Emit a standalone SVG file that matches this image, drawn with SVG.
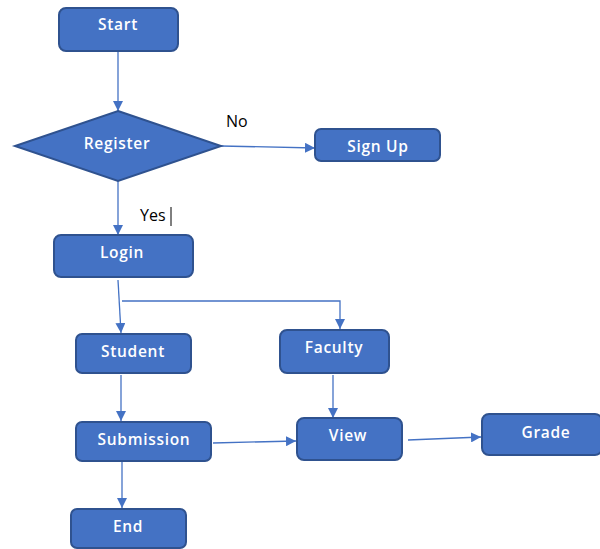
<svg xmlns="http://www.w3.org/2000/svg" width="600" height="549" viewBox="0 0 600 549">
<style>
.n{fill:#4472C4;stroke:#2F528F;stroke-width:2}
.t{fill:#fff;font-family:"Open Sans","Liberation Sans",sans-serif;font-size:15.5px;font-weight:600;text-anchor:middle;dominant-baseline:central;letter-spacing:0.7px}
.c{stroke:#4472C4;stroke-width:1.3;fill:none}
.l{fill:#000;font-family:"Open Sans","Liberation Sans",sans-serif;font-size:16px;font-weight:500}
</style>
<defs>
<marker id="a" viewBox="0 0 10 10" refX="10" refY="5" markerWidth="10" markerHeight="10" markerUnits="userSpaceOnUse" orient="auto">
<path d="M0,0L10,5L0,10z" fill="#4472C4"/>
</marker>
</defs>
<rect width="600" height="549" fill="#fff"/>
<g id="connectors">
<path class="c" d="M118,51V111" marker-end="url(#a)"/>
<path class="c" d="M221,146L315,148" marker-end="url(#a)"/>
<path class="c" d="M118,181V235" marker-end="url(#a)"/>
<path class="c" d="M118,280L121,333" marker-end="url(#a)"/>
<path class="c" d="M122,301H340V329" marker-end="url(#a)"/>
<path class="c" d="M121,375V421" marker-end="url(#a)"/>
<path class="c" d="M333,375L333,418" marker-end="url(#a)"/>
<path class="c" d="M213,443L296,441" marker-end="url(#a)"/>
<path class="c" d="M408,440L481,437" marker-end="url(#a)"/>
<path class="c" d="M122,462V508" marker-end="url(#a)"/>
</g>
<g id="start"><rect class="n" x="59" y="8" width="119" height="43" rx="7"/><text class="t" x="118" y="24">Start</text></g>
<g id="register"><path class="n" d="M118,111L221,146L118,181L15,146z"/><text class="t" x="117" y="143">Register</text></g>
<g id="signup"><rect class="n" x="315" y="129" width="125" height="32" rx="6"/><text class="t" x="378" y="146">Sign Up</text></g>
<g id="login"><rect class="n" x="54" y="235" width="139" height="42" rx="7"/><text class="t" x="122" y="252">Login</text></g>
<g id="student"><rect class="n" x="76" y="334" width="115" height="39" rx="6"/><text class="t" x="133" y="351">Student</text></g>
<g id="faculty"><rect class="n" x="280" y="330" width="109" height="43" rx="7"/><text class="t" x="334" y="347">Faculty</text></g>
<g id="submission"><rect class="n" x="76" y="422" width="135" height="39" rx="6"/><text class="t" x="144" y="439">Submission</text></g>
<g id="view"><rect class="n" x="297" y="418" width="105" height="42" rx="7"/><text class="t" x="348" y="435">View</text></g>
<g id="grade"><rect class="n" x="482" y="414" width="120" height="41" rx="7"/><text class="t" x="546" y="432">Grade</text></g>
<g id="end"><rect class="n" x="71" y="509" width="115" height="39" rx="6"/><text class="t" x="128" y="526">End</text></g>
<g id="labels">
<text class="l" x="226" y="127">No</text>
<text class="l" x="140" y="221">Yes</text>
<line x1="171" y1="207" x2="171" y2="226" stroke="#000" stroke-width="1"/>
</g>
</svg>
